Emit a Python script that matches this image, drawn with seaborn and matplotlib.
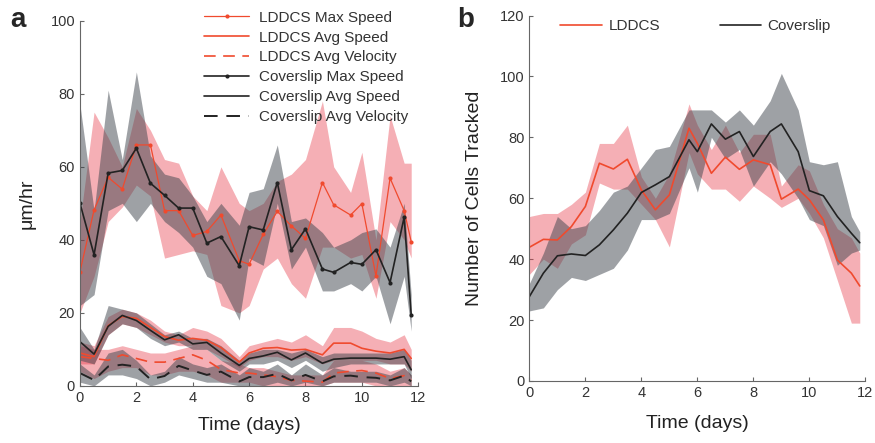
import numpy as np
import pandas as pd
import matplotlib
matplotlib.use("Agg")
import matplotlib.pyplot as plt
import seaborn as sns

# time points (days)
days = [0, 0.5, 1, 1.5, 2, 2.5, 3, 3.5, 4, 4.5, 5, 5.65, 6, 6.5, 7, 7.5, 8,
        8.6, 9, 9.6, 10, 10.5, 11, 11.5, 11.75]

# panel a - LDDCS
lddcs_max = [31.3, 48.2, 57.1, 53.9, 66.0, 66.0, 48.0, 48.0, 41.2, 42.3, 46.8, 34.3, 33.3,
             41.5, 47.8, 43.8, 40.4, 55.7, 49.6, 46.8, 49.9, 30.1, 56.9, 48.0, 39.5]
lddcs_max_lo = [20, 30, 45, 49, 55, 52, 35, 36, 37, 36, 22, 20, 22, 32, 35, 28, 24, 38, 38,
                35, 36, 24, 45, 40, 35]
lddcs_max_hi = [45, 75, 68, 60, 76, 70, 62, 61, 52, 48, 60, 50, 48, 50, 56, 58, 62, 78, 60,
                53, 64, 40, 74, 61, 61]
lddcs_spd = [9, 8, 16.5, 19, 18.5, 16, 13.5, 12.5, 13, 12.5, 10.5, 6.5, 9, 10.3, 10.5, 9.8,
             10, 8.5, 11.7, 11.7, 10.3, 9.5, 9, 10, 7.5]
lddcs_spd_lo = [6, 6, 14, 17, 16, 14, 12, 11, 11, 10, 8, 5, 7, 8, 8, 7, 8, 6, 7, 7, 7, 7, 6,
                6, 4]
lddcs_spd_hi = [12, 11, 19, 21, 20, 18, 15, 14, 16, 15, 13, 8, 11, 12, 13, 12, 14, 11, 16,
                16, 15, 13, 12, 14, 10]
lddcs_vel = [8, 7.5, 7, 8.5, 7.5, 6.5, 6.5, 7.5, 8.5, 7, 4.5, 3.5, 3.5, 3, 2.5, 1.5, 1.3, 1,
             3.5, 4, 4.2, 3.5, 2, 2.8, 1.5]
lddcs_vel_lo = [4, 2, 4, 5, 5, 3, 3, 4, 4, 3, 1, 1, 1, 0, 0, 0, 0, 0, 1, 1, 1, 0, 0, 0, 0]
lddcs_vel_hi = [11, 10, 10, 11, 10, 9, 9, 10, 11, 10, 7, 6, 5, 5, 4, 3, 3, 3, 7, 7, 7, 6, 4,
                5, 3]

# panel a - Coverslip
cover_max = [50.0, 35.9, 58.3, 59.0, 65.1, 55.5, 52.2, 48.7, 48.7, 39.1, 40.9, 32.9, 43.6,
             42.7, 55.7, 37.3, 43.0, 32.0, 31.1, 33.8, 33.3, 37.3, 28.3, 46.2, 19.5]
cover_max_lo = [22, 25, 48, 50, 45, 50, 45, 42, 38, 30, 28, 18, 35, 33, 50, 32, 38, 26, 26,
                28, 26, 30, 17, 30, 15]
cover_max_hi = [77, 48, 81, 62, 86, 63, 58, 57, 52, 45, 50, 44, 53, 54, 66, 45, 46, 42, 38,
                40, 42, 43, 38, 50, 25]
cover_spd = [12.1, 8.7, 16.3, 19.3, 17.9, 15.2, 12.6, 14.0, 11.5, 11.9, 9.0, 5.6, 7.5, 8.2,
             9.2, 7.1, 9.0, 6.2, 7.3, 7.6, 7.6, 7.6, 7.3, 8.0, 4.4]
cover_spd_lo = [7, 6, 14, 17, 16, 13, 11, 12, 10, 10, 7, 4, 6, 6, 7, 5, 7, 4, 5, 6, 6, 6, 6,
                6, 2]
cover_spd_hi = [16, 10, 22, 21, 20, 17, 14, 15, 13, 13, 11, 7, 9, 10, 10, 9, 10, 8, 9, 9, 9,
                9, 9, 10, 7]
cover_vel = [3.5, 1.6, 5.3, 5.8, 5.3, 1.8, 2.7, 5.5, 4.2, 3.0, 3.9, 1.2, 2.4, 2.4, 3.3, 1.5,
             3.0, 1.2, 2.6, 2.8, 2.4, 2.2, 1.5, 2.8, 1.2]
cover_vel_lo = [1, 0, 3, 3, 2, 0, 1, 3, 2, 1, 1, 0, 0, 0, 1, 0, 1, 0, 1, 1, 1, 1, 0, 1, 0]
cover_vel_hi = [6, 3, 9, 10, 7, 3, 4, 8, 6, 5, 6, 3, 5, 4, 6, 3, 6, 3, 5, 4, 4, 4, 3, 5, 3]

# panel b - cells tracked
days_b = [0, 0.5, 1, 1.5, 2, 2.5, 3, 3.5, 4, 4.5, 5, 5.7, 6, 6.5, 7, 7.5, 8, 8.6, 9, 9.6,
          10, 10.5, 11, 11.5, 11.8]
lddcs_cells = [43.9, 46.5, 46.3, 50.7, 57.3, 71.5, 69.6, 72.8, 62.7, 56.2, 61.1, 83.0, 78,
               68.2, 73.5, 69.5, 72.6, 71, 59.7, 63, 59.5, 52.9, 39.7, 35.4, 31.2]
lddcs_cells_lo = [35, 40, 37, 45, 48, 65, 63, 63, 58, 53, 44, 75, 68, 63, 63, 59, 64, 60, 57,
                  60, 55, 47, 33, 19, 19]
lddcs_cells_hi = [54, 55, 55, 58, 62, 78, 78, 84, 67, 60, 68, 91, 84, 76, 84, 75, 81, 81, 64,
                  71, 69, 58, 50, 47, 42]
cover_cells = [27.7, 35.4, 41.1, 41.7, 41.2, 44.7, 49.6, 55.1, 61.9, 64.4, 67.1, 79.2, 75.3,
               84.4, 79.4, 81.9, 73.7, 81.9, 84.4, 75.3, 62.5, 60.8, 54, 48.5, 45.4]
cover_cells_lo = [23, 24, 30, 34, 33, 35, 37, 43, 53, 53, 55, 70, 62, 80, 73, 76, 64, 72, 68,
                  60, 53, 51, 38, 42, 43]
cover_cells_hi = [32, 42, 54, 50, 51, 56, 62, 64, 70, 76, 77, 89, 89, 89, 85, 89, 84, 92,
                  101, 89, 72, 71, 72, 54, 49]

RED = "#f04a2e"
RED_FILL = "#e8414f"
GRAY = "#222222"
GRAY_FILL = "#3f454d"
DASH = (0, (7, 4.5))

sns.set_style("ticks")
plt.rcParams["font.family"] = ["Liberation Sans", "DejaVu Sans"]
plt.rcParams["axes.edgecolor"] = "#666666"
plt.rcParams["xtick.color"] = "#666666"
plt.rcParams["ytick.color"] = "#666666"
plt.rcParams["xtick.labelcolor"] = "#333333"
plt.rcParams["ytick.labelcolor"] = "#333333"
plt.rcParams["xtick.direction"] = "in"
plt.rcParams["ytick.direction"] = "in"

fig = plt.figure(figsize=(8.75, 4.43), dpi=100)
ax1 = fig.add_axes([0.0914, 0.129, 0.3866, 0.824])
ax2 = fig.add_axes([0.605, 0.14, 0.384, 0.825])

df_a = pd.DataFrame({
    "days": days,
    "lddcs_max": lddcs_max, "lddcs_spd": lddcs_spd, "lddcs_vel": lddcs_vel,
    "cover_max": cover_max, "cover_spd": cover_spd, "cover_vel": cover_vel,
})

bands = [
    (lddcs_max_lo, lddcs_max_hi, RED_FILL, 0.42),
    (lddcs_spd_lo, lddcs_spd_hi, RED_FILL, 0.42),
    (lddcs_vel_lo, lddcs_vel_hi, RED_FILL, 0.42),
    (cover_max_lo, cover_max_hi, GRAY_FILL, 0.5),
    (cover_spd_lo, cover_spd_hi, GRAY_FILL, 0.5),
    (cover_vel_lo, cover_vel_hi, GRAY_FILL, 0.5),
]
for lo, hi, c, a in bands:
    ax1.fill_between(days, lo, hi, color=c, alpha=a, linewidth=0)

sns.lineplot(data=df_a, x="days", y="lddcs_max", ax=ax1, color=RED, lw=0.9,
             marker="o", markersize=3, markeredgewidth=0, label="LDDCS Max Speed")
sns.lineplot(data=df_a, x="days", y="lddcs_spd", ax=ax1, color=RED, lw=1.2,
             label="LDDCS Avg Speed")
sns.lineplot(data=df_a, x="days", y="lddcs_vel", ax=ax1, color=RED, lw=1.2,
             linestyle=DASH, label="LDDCS Avg Velocity")
sns.lineplot(data=df_a, x="days", y="cover_max", ax=ax1, color=GRAY, lw=1.2,
             marker="o", markersize=3, markeredgewidth=0, label="Coverslip Max Speed")
sns.lineplot(data=df_a, x="days", y="cover_spd", ax=ax1, color=GRAY, lw=1.2,
             label="Coverslip Avg Speed")
sns.lineplot(data=df_a, x="days", y="cover_vel", ax=ax1, color=GRAY, lw=1.4,
             linestyle=DASH, label="Coverslip Avg Velocity")

ax1.set_xlim(0, 12)
ax1.set_ylim(0, 100)
ax1.set_xticks(range(0, 13, 2))
ax1.set_yticks(range(0, 101, 20))
ax1.set_xlabel("Time (days)", fontsize=14, color="#222222", labelpad=9)
ax1.set_ylabel("μm/hr", fontsize=14, color="#222222", labelpad=11)
ax1.legend(loc="upper right", bbox_to_anchor=(1.01, 1.065), frameon=False, fontsize=11,
           handlelength=3.0, labelspacing=0.38, handletextpad=0.6, labelcolor="#333333")

df_b = pd.DataFrame({"days": days_b, "lddcs": lddcs_cells, "cover": cover_cells})
ax2.fill_between(days_b, lddcs_cells_lo, lddcs_cells_hi, color=RED_FILL, alpha=0.42,
                 linewidth=0)
ax2.fill_between(days_b, cover_cells_lo, cover_cells_hi, color=GRAY_FILL, alpha=0.5,
                 linewidth=0)
sns.lineplot(data=df_b, x="days", y="lddcs", ax=ax2, color=RED, lw=1.2, label="LDDCS")
sns.lineplot(data=df_b, x="days", y="cover", ax=ax2, color=GRAY, lw=1.2, label="Coverslip")
ax2.set_xlim(0, 12)
ax2.set_ylim(0, 120)
ax2.set_xticks(range(0, 13, 2))
ax2.set_yticks(range(0, 121, 20))
ax2.set_xlabel("Time (days)", fontsize=14, color="#222222", labelpad=11)
ax2.set_ylabel("Number of Cells Tracked", fontsize=14, color="#222222", labelpad=12)
ax2.legend(loc="upper left", bbox_to_anchor=(0.092, 0.99), ncol=2, frameon=False,
           fontsize=11, handlelength=2.7, handletextpad=0.45, columnspacing=3.9,
           borderaxespad=0, borderpad=0, labelcolor="#333333")

for ax in (ax1, ax2):
    sns.despine(ax=ax)
    ax.tick_params(labelsize=10.5, length=3)

fig.text(0.012, 0.94, "a", fontsize=20, fontweight="bold")
fig.text(0.523, 0.94, "b", fontsize=20, fontweight="bold")

fig.savefig("out.png", dpi=100)
